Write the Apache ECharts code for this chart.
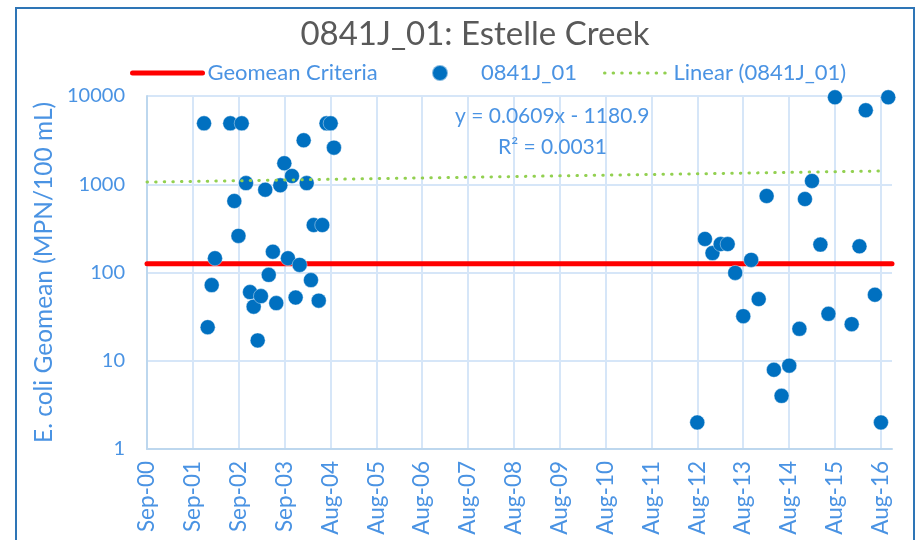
<!DOCTYPE html>
<html>
<head>
<meta charset="utf-8">
<script src="https://cdn.jsdelivr.net/npm/echarts@6/dist/echarts.min.js"></script>
<style>
html, body { margin: 0; padding: 0; background: #fff; }
#chart { width: 918px; height: 540px; }
</style>
</head>
<body>
<div id="chart"></div>
<script>
var chart = echarts.init(document.getElementById('chart'));

// monthly E. coli geomeans, MPN/100 mL
var sampleDates = [
  '2001-11-29', '2001-12-28', '2002-01-29', '2002-02-24', '2002-06-26', '2002-07-28',
  '2002-08-30', '2002-09-25', '2002-10-29', '2002-11-30', '2002-12-29', '2003-01-30',
  '2003-02-25', '2003-03-31', '2003-04-28', '2003-05-31', '2003-06-27', '2003-07-29',
  '2003-08-30', '2003-09-28', '2003-10-30', '2003-11-28', '2003-12-30', '2004-01-31',
  '2004-02-24', '2004-03-29', '2004-04-20', '2004-05-30', '2004-06-27', '2004-07-31',
  '2004-09-02', '2004-09-28',
  '2012-08-29', '2012-10-29', '2012-12-28', '2013-03-03', '2013-04-28', '2013-06-27',
  '2013-08-30', '2013-11-01', '2013-12-31', '2014-03-04', '2014-05-01', '2014-07-01',
  '2014-08-31', '2014-11-20', '2015-01-03', '2015-02-28', '2015-05-06', '2015-07-09',
  '2015-08-30', '2016-01-10', '2016-03-12', '2016-05-01', '2016-07-13', '2016-08-30',
  '2016-10-27'
];
var geomeans = [
  4900, 24, 72, 145, 4900, 646,
  260, 4900, 1030, 60, 41, 17,
  54, 867, 94, 172, 45, 973,
  1730, 145, 1240, 52, 122, 3150,
  1030, 82, 345, 48, 345, 4900,
  4900, 2600,
  2, 240, 166, 210, 210, 99,
  32, 139, 50, 736, 7.9, 4,
  8.8, 23, 680, 1089, 207, 34,
  9670, 26, 198, 6890, 56, 2,
  9670
];

var criteria = 126;
// trendline ends
var trendDates = ['2000-09-01', '2016-09-23'];
var trendValues = [1058, 1414];

var axisStart = '2000-09-01';
var axisDays = 5930;
var months = ['Jan', 'Feb', 'Mar', 'Apr', 'May', 'Jun', 'Jul', 'Aug', 'Sep', 'Oct', 'Nov', 'Dec'];

var blue = '#0070C0';
var labelBlue = '#4A93E3';
var gridBlue = '#D6E6F8';
var font = 'Lato';

function dayOf(s) {
  return Math.round((Date.parse(s) - Date.parse(axisStart)) / 86400000);
}

var points = sampleDates.map(function (d, i) { return [dayOf(d), geomeans[i]]; });
var trend = trendDates.map(function (d, i) { return [dayOf(d), trendValues[i]]; });

var legendText = { fontFamily: font, fontSize: 22, color: labelBlue };
var noSymbol = { color: 'transparent', borderWidth: 0, opacity: 0 };

var option = {
  animation: false,
  title: {
    text: '0841J_01: Estelle Creek',
    left: 470,
    textAlign: 'center',
    top: 13,
    textStyle: { fontFamily: font, fontSize: 33, fontWeight: 'normal', color: '#595959' }
  },
  legend: [
    {
      data: ['Geomean Criteria'], left: 130, top: 62, padding: 0,
      itemWidth: 70, itemHeight: 16,
      lineStyle: { width: 5 }, itemStyle: noSymbol,
      textStyle: legendText
    },
    {
      data: ['0841J_01'], left: 431, top: 62, padding: 0,
      itemWidth: 72, itemHeight: 16,
      textStyle: legendText
    },
    {
      data: ['Linear (0841J_01)'], left: 603, top: 62, padding: 0,
      itemWidth: 64, itemHeight: 16,
      lineStyle: { width: 3 }, itemStyle: noSymbol,
      textStyle: legendText
    }
  ],
  grid: { left: 147, right: 26, top: 96, bottom: 91, outerBoundsMode: 'none' },
  xAxis: {
    type: 'value',
    min: 0,
    max: axisDays,
    interval: 365,
    axisLine: { lineStyle: { color: '#BDD7EE', width: 2 } },
    axisTick: { show: false },
    splitLine: { show: true, showMaxLine: false, lineStyle: { color: gridBlue, width: 2 } },
    axisLabel: {
      rotate: 90,
      margin: 12,
      showMaxLabel: false,
      color: labelBlue,
      fontFamily: font,
      fontSize: 22.5,
      formatter: function (v) {
        var d = new Date(Date.parse(axisStart) + v * 86400000);
        return months[d.getUTCMonth()] + '-' + String(d.getUTCFullYear()).slice(2);
      }
    }
  },
  yAxis: {
    type: 'log',
    logBase: 10,
    min: 1,
    max: 10000,
    name: 'E. coli Geomean (MPN/100 mL)',
    nameLocation: 'middle',
    nameGap: 86,
    nameTextStyle: { fontFamily: font, fontSize: 24.5, color: labelBlue },
    axisLine: { show: true, lineStyle: { color: '#BDD7EE', width: 2 } },
    axisTick: { show: false },
    splitLine: { show: true, lineStyle: { color: gridBlue, width: 2 } },
    axisLabel: {
      margin: 22, color: labelBlue, fontFamily: font, fontSize: 20,
      formatter: function (v) { return String(v); }
    }
  },
  graphic: [
    {
      type: 'rect', silent: true,
      shape: { x: 16, y: 8, width: 898, height: 560 },
      style: { fill: 'none', stroke: '#2E75B6', lineWidth: 2 }
    },
    {
      type: 'text', left: 455, top: 106, z: 100,
      style: { text: 'y = 0.0609x - 1180.9', fontFamily: font, fontSize: 21, fill: labelBlue }
    },
    {
      type: 'text', left: 498, top: 137, z: 100,
      style: { text: 'R² = 0.0031', fontFamily: font, fontSize: 21, fill: labelBlue }
    }
  ],
  series: [
    {
      name: 'Geomean Criteria',
      type: 'line',
      symbol: 'none',
      data: [[0, criteria], [axisDays, criteria]],
      lineStyle: { color: '#FF0000', width: 5, cap: 'round' },
      itemStyle: { color: '#FF0000' },
      z: 2
    },
    {
      name: '0841J_01',
      type: 'scatter',
      symbol: 'circle',
      symbolSize: 15,
      data: points,
      itemStyle: { color: blue, opacity: 1, borderColor: 'rgba(255,255,255,0.5)', borderWidth: 0.8 },
      z: 3
    },
    {
      name: 'Linear (0841J_01)',
      type: 'line',
      symbol: 'none',
      data: trend,
      lineStyle: { color: '#92D050', width: 3, type: [0.5, 8.1], cap: 'round' },
      itemStyle: { color: '#92D050' },
      z: 4
    }
  ]
};

chart.setOption(option);
</script>
</body>
</html>
